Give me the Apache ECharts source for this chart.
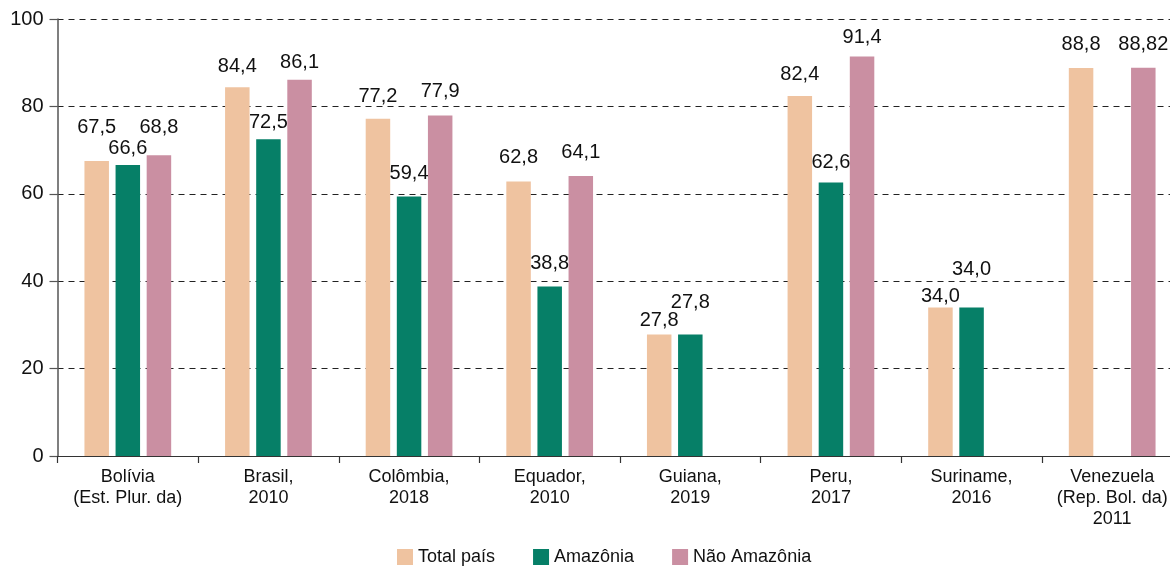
<!DOCTYPE html>
<html>
<head>
<meta charset="utf-8">
<script src="https://cdn.jsdelivr.net/npm/echarts@6/dist/echarts.min.js"></script>
<style>
html,body{margin:0;padding:0;background:#fff;overflow:hidden;width:1170px;height:566px;}
#chart{width:1190px;height:566px;}
</style>
</head>
<body>
<div id="chart"></div>
<script>
const categories = [
  'Bolívia\n(Est. Plur. da)',
  'Brasil,\n2010',
  'Colômbia,\n2018',
  'Equador,\n2010',
  'Guiana,\n2019',
  'Peru,\n2017',
  'Suriname,\n2016',
  'Venezuela\n(Rep. Bol. da)\n2011'
];
const seriesNames = ['Total país', 'Amazônia', 'Não Amazônia'];
const totalPais   = [67.5, 84.4, 77.2, 62.8, 27.8, 82.4, 34.0, 88.8];
const amazonia    = [66.6, 72.5, 59.4, 38.8, 27.8, 62.6, 34.0, null];
const naoAmazonia = [68.8, 86.1, 77.9, 64.1, null, 91.4, null, 88.82];
const valueText   = [
  ['67,5','84,4','77,2','62,8','27,8','82,4','34,0','88,8'],
  ['66,6','72,5','59,4','38,8','27,8','62,6','34,0',''],
  ['68,8','86,1','77,9','64,1','','91,4','','88,82']
];
const yTicks = [0, 20, 40, 60, 80, 100];

// label placement (style only)
const labelDist = [
  [24, 11, 12, 14, 4, 11, 1, 13],
  [6, 7, 13, 13, 22, 10, 28, 0],
  [18, 7, 14, 13, 0, 9, 0, 13]
];
const colors = ['#EFC3A0', '#067F67', '#CA8FA2'];
const FONT = 'Liberation Sans, Arial, Helvetica, sans-serif';

const seriesData = [totalPais, amazonia, naoAmazonia];
const series = seriesData.map((arr, s) => ({
  name: seriesNames[s],
  type: 'bar',
  barWidth: 24.5,
  barGap: '27%',
  itemStyle: { color: colors[s] },
  data: arr.map((v, i) => v === null ? null : {
    value: v,
    label: {
      show: true,
      position: 'top',
      distance: labelDist[s][i],
      formatter: valueText[s][i],
      color: '#111',
      fontSize: 20,
      fontFamily: FONT,
      lineHeight: 20
    }
  })
}));

const chart = echarts.init(document.getElementById('chart'));
chart.setOption({
  animation: false,
  backgroundColor: '#fff',
  textStyle: { fontFamily: FONT },
  grid: { left: 57.5, width: 1125, top: 19, height: 437, containLabel: false, outerBoundsMode: 'none' },
  legend: {
    data: seriesNames,
    left: 392,
    top: 543,
    itemWidth: 16,
    itemHeight: 16,
    itemGap: 38,
    icon: 'rect',
    textStyle: { fontSize: 18, color: '#111', fontFamily: FONT }
  },
  xAxis: {
    type: 'category',
    data: categories,
    axisLine: { lineStyle: { color: '#333', width: 1.2 } },
    axisTick: { show: true, length: 7, lineStyle: { color: '#333', width: 1.2 } },
    axisLabel: {
      interval: 0,
      margin: 11,
      fontSize: 18,
      lineHeight: 21,
      color: '#111',
      fontFamily: FONT
    }
  },
  yAxis: {
    type: 'value',
    min: yTicks[0],
    max: yTicks[yTicks.length - 1],
    interval: 20,
    axisLine: { show: true, lineStyle: { color: '#555', width: 1.5 } },
    axisTick: { show: true, length: 8, lineStyle: { color: '#555', width: 1.2 } },
    axisLabel: { margin: 14, fontSize: 20, color: '#111', fontFamily: FONT },
    splitLine: { show: true, lineStyle: { color: '#222', type: [6, 5], width: 1 } }
  },
  series: series
});
</script>
</body>
</html>
